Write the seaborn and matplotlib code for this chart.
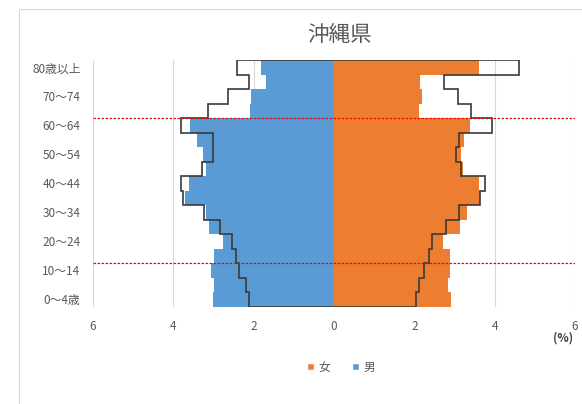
import numpy as np
import pandas as pd
import matplotlib
matplotlib.use("Agg")
import matplotlib.pyplot as plt
from matplotlib.patches import Patch
from matplotlib.lines import Line2D
import seaborn as sns

# Age groups, youngest first
ages = ["0～4歳", "5～9", "10～14", "15～19", "20～24", "25～29", "30～34",
        "35～39", "40～44", "45～49", "50～54", "55～59", "60～64",
        "65～69", "70～74", "75～79", "80歳以上"]

# Share of total population (%) by age group
male = [3.02, 2.98, 3.06, 3.00, 2.77, 3.12, 3.18, 3.72, 3.60, 3.18,
        3.27, 3.41, 3.58, 2.08, 2.06, 1.70, 1.81]
female = [2.92, 2.83, 2.88, 2.88, 2.72, 3.13, 3.32, 3.63, 3.60, 3.20,
          3.17, 3.23, 3.38, 2.12, 2.18, 2.13, 3.62]

# Comparison year, drawn as a stepped outline
male_past = [2.12, 2.20, 2.37, 2.45, 2.53, 2.85, 3.23, 3.77, 3.81, 3.28,
             3.02, 3.02, 3.81, 3.14, 2.64, 2.12, 2.42]
female_past = [2.03, 2.11, 2.23, 2.36, 2.44, 2.80, 3.11, 3.63, 3.75, 3.15,
               3.03, 3.11, 3.94, 3.40, 3.08, 2.73, 4.61]

labelled_ages = ["80歳以上", "70～74", "60～64", "50～54", "40～44",
                 "30～34", "20～24", "10～14", "0～4歳"]
x_ticks = [-6, -4, -2, 0, 2, 4, 6]
x_tick_labels = ["6", "4", "2", "0", "2", "4", "6"]

COLOR_F = "#ED7D31"
COLOR_M = "#5B9BD5"
TEXT = "#595959"

sns.set_style("white")
plt.rcParams["font.family"] = ["Noto Sans CJK JP", "DejaVu Sans"]

df = pd.DataFrame({
    "age": ages * 2,
    "value": [-v for v in male] + female,
    "sex": ["男"] * len(ages) + ["女"] * len(ages),
})
order = ages[::-1]  # oldest at the top

fig = plt.figure(figsize=(5.82, 4.04), dpi=100)
W, H = 582, 404
ax = fig.add_axes([93 / W, 1 - 306.5 / H, (575 - 93) / W, (306.5 - 60) / H])

sns.barplot(data=df, x="value", y="age", hue="sex", order=order,
            hue_order=["女", "男"], palette={"女": COLOR_F, "男": COLOR_M},
            dodge=False, width=1.0, saturation=1, errorbar=None,
            linewidth=0, legend=False, ax=ax)

ax.set_xlim(-6, 6)
ax.set_ylim(len(order) - 0.5, -0.5)

# Stepped outline of the comparison year (closed pyramid shape)
pos = np.array([order.index(a) for a in ages], dtype=float)
lo = pos + 0.5   # lower edge of each band (axis is inverted)
hi = pos - 0.5
mp = np.array(male_past)
fp = np.array(female_past)
xs, ys = [], []
for i in range(len(ages)):
    xs += [-mp[i], -mp[i]]
    ys += [lo[i], hi[i]]
for i in reversed(range(len(ages))):
    xs += [fp[i], fp[i]]
    ys += [hi[i], lo[i]]
xs.append(xs[0])
ys.append(ys[0])
ax.plot(xs, ys, color="#3a3a3a", lw=1.2, zorder=4, solid_joinstyle="miter")

# Boundaries of the working-age band (15-64)
for a_top, a_bottom in [("65～69", "60～64"), ("15～19", "10～14")]:
    yb = (order.index(a_top) + order.index(a_bottom)) / 2
    ax.axhline(yb, color="#ff0000", lw=0.9, ls=(0, (2.0, 1.2)), zorder=5)

ax.set_xticks(x_ticks)
ax.set_xticklabels(x_tick_labels)
ax.set_yticks([order.index(a) for a in labelled_ages])
ax.set_yticklabels(labelled_ages)
ax.tick_params(axis="both", length=0, labelsize=8.5, labelcolor=TEXT)
ax.tick_params(axis="y", pad=9)
ax.tick_params(axis="x", pad=10)
ax.set_xlabel("")
ax.set_ylabel("")
ax.grid(axis="x", color="#d9d9d9", lw=0.8)
ax.grid(axis="y", visible=False)
ax.set_axisbelow(True)
for s in ax.spines.values():
    s.set_visible(False)

fig.text(339 / W, 1 - 35 / H, "沖縄県", ha="center", va="center",
         fontsize=15.5, color=TEXT)
fig.text(563 / W, 1 - 338 / H, "(%)", ha="center", va="center",
         fontsize=8.5, fontweight="bold", color="#404040")

handles = [Patch(facecolor=COLOR_F, label="女"), Patch(facecolor=COLOR_M, label="男")]
fig.legend(handles=handles, loc="center", bbox_to_anchor=(341 / W, 1 - 367 / H),
           ncol=2, frameon=False, fontsize=8.5, handlelength=0.6,
           handleheight=0.6, handletextpad=0.4, columnspacing=1.8,
           labelcolor=TEXT)

# Chart frame
fig.add_artist(Line2D([19 / W, 19 / W], [0, 1 - 9 / H], transform=fig.transFigure,
                      color="#d9d9d9", lw=0.8))
fig.add_artist(Line2D([19 / W, 1], [1 - 9 / H, 1 - 9 / H], transform=fig.transFigure,
                      color="#d9d9d9", lw=0.8))

fig.savefig("out.png", dpi=100, facecolor="white")
